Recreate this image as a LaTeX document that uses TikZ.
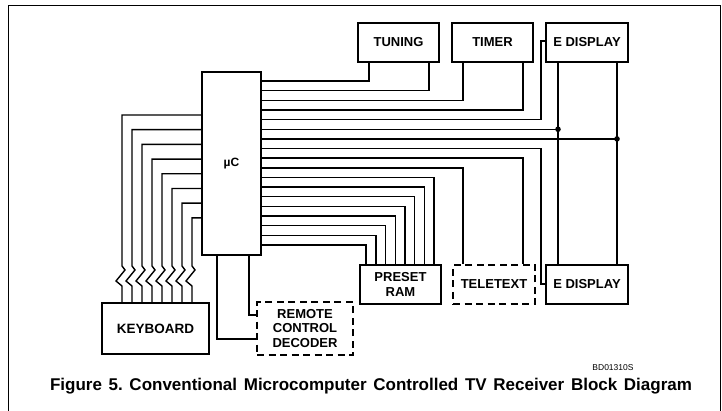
\documentclass[tikz,border=0pt]{standalone}
\usepackage{fontspec}
\setmainfont{Liberation Sans}

\begin{document}
\begin{tikzpicture}[x=1pt,y=-1pt,
  box/.style={draw,line width=2.3pt,inner sep=0pt,align=center,
    font=\bfseries\fontsize{13}{14.5}\selectfont},
  dbox/.style={box,dash pattern=on 7pt off 4.5pt},
  wire/.style={line width=1.4pt}]
  \useasboundingbox (0,0) rectangle (722,411);
  \def\ytop{81}\def\dy{9.65}
  % frame
  \draw[line width=0.9pt] (8,411) -- (8,5) -- (720,5) -- (720,411);
  % blocks
  \node[box,minimum width=59,minimum height=183] (uC) at (231.5,163.5) {\fontsize{12}{13}\selectfont µC};
  \node[box,minimum width=81,minimum height=39] (tuning) at (398.5,42.5) {TUNING};
  \node[box,minimum width=81,minimum height=39] (timer) at (492.5,42.5) {TIMER};
  \node[box,minimum width=82,minimum height=39] (edtop) at (587,42.5) {E DISPLAY};
  \node[box,minimum width=81,minimum height=39] (preset) at (400.5,284.5) {PRESET\\RAM};
  \node[dbox,minimum width=82,minimum height=39] (teletext) at (494,284.5) {TELETEXT};
  \node[box,minimum width=82,minimum height=39] (edbot) at (587,284.5) {E DISPLAY};
  \node[box,minimum width=107,minimum height=51] (keyboard) at (155.5,328.5) {\fontsize{13.5}{15}\selectfont KEYBOARD};
  \node[dbox,minimum width=96,minimum height=53] (remote) at (305,328.5) {REMOTE\\CONTROL\\DECODER};
  % outputs of the uC
  \foreach \i/\xx/\blk in {0/369/tuning,1/429/tuning,2/463/timer,3/523/timer}{
    \pgfmathsetmacro\yy{\ytop+\dy*\i}
    \draw[wire] (uC.east |- 0,\yy) -| (\blk.south -| \xx,0);
  }
  \foreach \i/\xx in {8/523,9/463}{
    \pgfmathsetmacro\yy{\ytop+\dy*\i}
    \draw[wire] (uC.east |- 0,\yy) -| (teletext.north -| \xx,0);
  }
  \foreach \i in {10,...,17}{
    \pgfmathsetmacro\yy{\ytop+\dy*\i}
    \pgfmathsetmacro\xx{434-9.7*(\i-10)}
    \draw[wire] (uC.east |- 0,\yy) -| (preset.north -| \xx,0);
  }
  \pgfmathsetmacro\yy{\ytop+\dy*4}
  \draw[wire] (uC.east |- 0,\yy) -| (541,41) -- (edtop.west |- 0,41);
  \pgfmathsetmacro\yy{\ytop+\dy*7}
  \draw[wire] (uC.east |- 0,\yy) -| (541,284) -- (edbot.west |- 0,284);
  % display bus
  \pgfmathsetmacro\yy{\ytop+\dy*5}
  \coordinate (busA) at (558,\yy);
  \pgfmathsetmacro\yy{\ytop+\dy*6}
  \coordinate (busB) at (617,\yy);
  \draw[wire] (edtop.south -| busA) -- (edbot.north -| busA);
  \draw[wire] (edtop.south -| busB) -- (edbot.north -| busB);
  \draw[wire] (uC.east |- busA) -- (busA);
  \draw[wire] (uC.east |- busB) -- (busB);
  \fill (busA) circle (2.8pt);
  \fill (busB) circle (2.8pt);
  % keyboard lines
  \foreach \k in {0,...,7}{
    \pgfmathsetmacro\yy{115+14.7*\k}
    \pgfmathsetmacro\xx{122+10*\k}
    \draw[wire] (uC.west |- 0,\yy) -| (\xx,266) -- ++(3,4) -- ++(-9,11) -- ++(6,5) -- (keyboard.north -| \xx,0);
  }
  % remote control decoder
  \draw[wire] (uC.south -| 249,0) |- (remote.west |- 0,315);
  \draw[wire] (uC.south -| 217,0) |- (remote.west |- 0,339);
  % texts
  \node[font=\fontsize{8.5}{10}\selectfont] (code) at (613,368) {BD01310S};
  \node[font=\bfseries\fontsize{17}{20}\selectfont] (caption) at (371,386)
    {\frenchspacing\makebox[642pt][s]{Figure 5. Conventional Microcomputer Controlled TV Receiver Block Diagram}};
\end{tikzpicture}
\end{document}
